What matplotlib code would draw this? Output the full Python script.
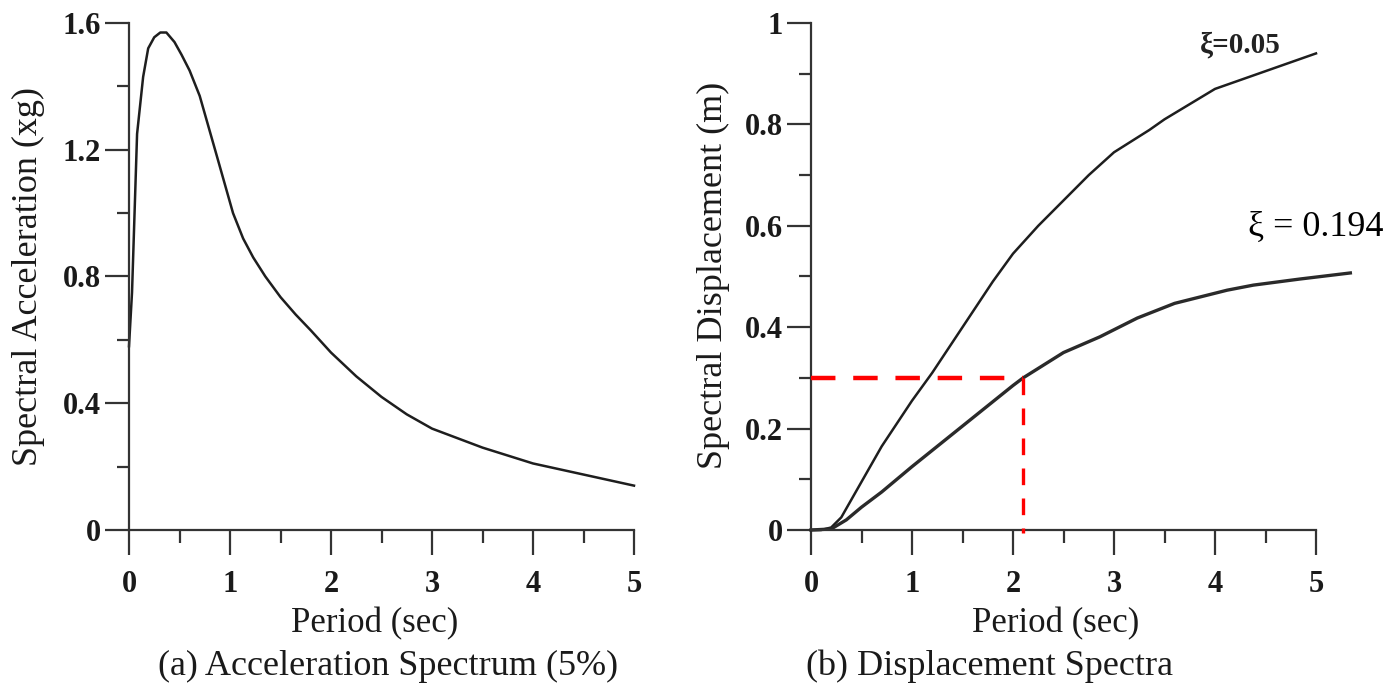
import matplotlib.pyplot as plt
from matplotlib.ticker import MultipleLocator, FuncFormatter

# spectra
accel_period = [0, 0.03, 0.08, 0.14, 0.19, 0.25, 0.31, 0.37, 0.45, 0.52, 0.6, 0.7, 0.87,
                1.03, 1.13, 1.23, 1.35, 1.5, 1.65, 1.8, 2.0, 2.25, 2.5, 2.75, 3.0, 3.25,
                3.5, 4.0, 4.5, 5.0]
accel_sa = [0.58, 0.75, 1.25, 1.43, 1.52, 1.555, 1.57, 1.57, 1.54, 1.50, 1.45, 1.37, 1.18,
            1.0, 0.92, 0.86, 0.80, 0.735, 0.68, 0.63, 0.56, 0.485, 0.42, 0.365, 0.32,
            0.29, 0.26, 0.21, 0.175, 0.14]

disp_period_05 = [0, 0.1, 0.2, 0.3, 0.4, 0.5, 0.7, 1.0, 1.2, 1.5, 1.8, 2.0, 2.25, 2.5,
                  2.75, 3.0, 3.35, 3.5, 4.0, 4.5, 5.0]
disp_sd_05 = [0, 0, 0.005, 0.025, 0.06, 0.095, 0.165, 0.255, 0.31, 0.40, 0.49, 0.545,
              0.60, 0.65, 0.70, 0.745, 0.789, 0.81, 0.87, 0.905, 0.94]

disp_period_194 = [0, 0.2, 0.35, 0.5, 0.7, 1.0, 1.5, 2.0, 2.1, 2.5, 2.86, 3.23, 3.6,
                   4.12, 4.38, 4.84, 5.34]
disp_sd_194 = [0, 0.002, 0.02, 0.045, 0.075, 0.125, 0.205, 0.285, 0.30, 0.35, 0.381,
               0.418, 0.447, 0.473, 0.483, 0.495, 0.507]

target_period = 2.1
target_sd = 0.3

plt.rcParams['font.family'] = ['Liberation Serif', 'DejaVu Serif']

fig = plt.figure(figsize=(13.94, 6.84), dpi=100)
ax1 = fig.add_axes([129 / 1394, 154 / 684, 505 / 1394, 507 / 684])
ax2 = fig.add_axes([811 / 1394, 154 / 684, 505 / 1394, 507 / 684])

line_color = '#1e1e1e'
text_color = '#1a1a1a'


def style_axes(ax, ymax, ymajor):
    ax.set_xlim(0, 5)
    ax.set_ylim(0, ymax)
    for s in ['top', 'right']:
        ax.spines[s].set_visible(False)
    for s in ['left', 'bottom']:
        ax.spines[s].set_linewidth(1.6)
        ax.spines[s].set_color('#333333')
    ax.xaxis.set_major_locator(MultipleLocator(1))
    ax.xaxis.set_minor_locator(MultipleLocator(0.5))
    ax.yaxis.set_major_locator(MultipleLocator(ymajor))
    ax.yaxis.set_minor_locator(MultipleLocator(ymajor / 2))
    fmt = FuncFormatter(lambda v, pos: '{:g}'.format(round(v, 3)))
    ax.xaxis.set_major_formatter(fmt)
    ax.yaxis.set_major_formatter(fmt)
    ax.tick_params(axis='x', which='major', direction='out', length=18, width=1.6,
                   pad=11, labelsize=22, color='#333333', labelcolor=text_color)
    ax.tick_params(axis='x', which='minor', direction='out', length=9, width=1.6,
                   color='#333333')
    ax.tick_params(axis='y', which='major', direction='out', length=17, width=1.6,
                   pad=3, labelsize=22, color='#333333', labelcolor=text_color)
    ax.tick_params(axis='y', which='minor', direction='out', length=9, width=1.6,
                   color='#333333')
    for lab in ax.get_xticklabels() + ax.get_yticklabels():
        lab.set_fontweight('bold')
    ax.set_xlabel('Period (sec)', fontsize=25, color=text_color)


# (a) acceleration spectrum
style_axes(ax1, 1.6, 0.4)
ax1.plot(accel_period, accel_sa, color=line_color, lw=1.8, clip_on=False)
ax1.set_ylabel('Spectral Acceleration (xg)', fontsize=26, color=text_color)
ax1.yaxis.set_label_coords(-0.166, 0.50)
ax1.xaxis.set_label_coords(0.487, -0.152)

# (b) displacement spectra
style_axes(ax2, 1.0, 0.2)
ax2.plot(disp_period_05, disp_sd_05, color=line_color, lw=1.8, clip_on=False)
ax2.plot(disp_period_194, disp_sd_194, color='#2a2a2a', lw=2.4, clip_on=False)
ax2.set_ylabel('Spectral Displacement (m)', fontsize=26, color=text_color)
ax2.yaxis.set_label_coords(-0.160, 0.503)
ax2.xaxis.set_label_coords(0.485, -0.152)

# red guide lines
ax2.plot([0, target_period], [target_sd, target_sd], color='#ff0000', lw=3.2,
         linestyle=(0, (5.5, 4)), clip_on=False, zorder=5)
ax2.plot([target_period, target_period], [target_sd, -0.006], color='#ff0000', lw=2.4,
         linestyle=(0, (5, 4)), clip_on=False, zorder=5)

ax2.text(3.85, 0.957, 'ξ=0.05', fontsize=21, fontweight='bold', va='center', ha='left',
         color='#222222')
ax2.text(4.33, 0.596, 'ξ = 0.194', fontsize=26, va='center', ha='left', color='black')

fig.text(158 / 1394, 9 / 684, '(a) Acceleration Spectrum (5%)', fontsize=26,
         va='baseline', ha='left', color=text_color)
fig.text(806 / 1394, 9 / 684, '(b) Displacement Spectra', fontsize=26,
         va='baseline', ha='left', color=text_color)

plt.savefig('out.png', dpi=100)
